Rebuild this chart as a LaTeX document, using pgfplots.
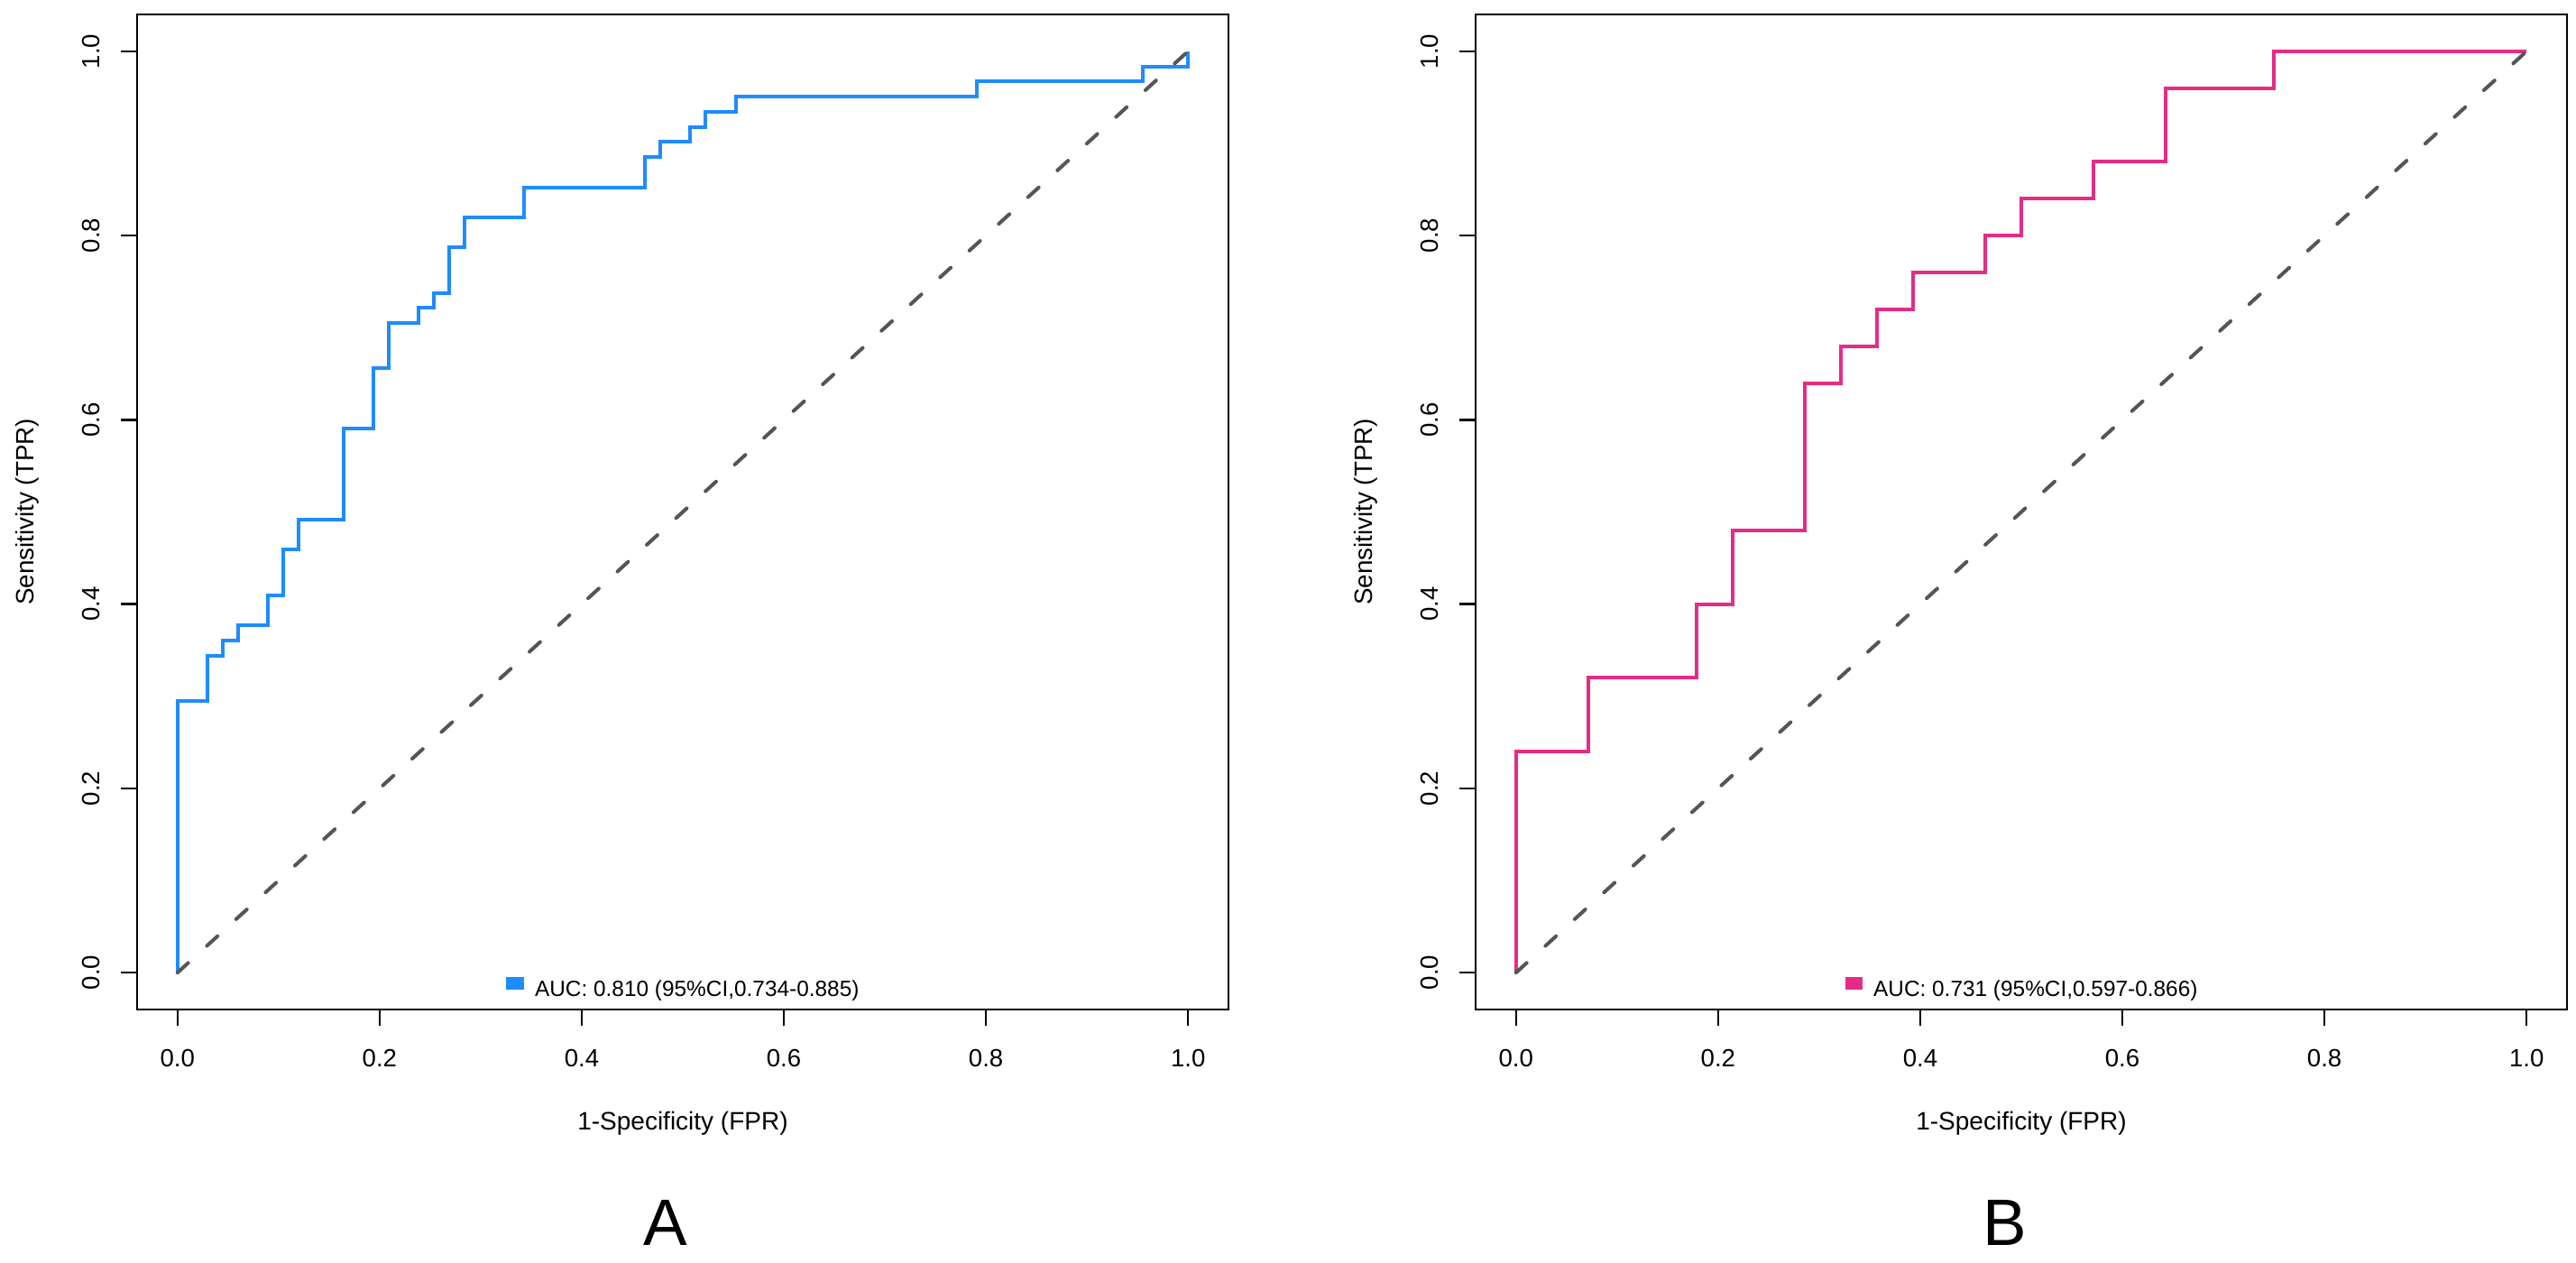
\documentclass[border=0pt]{standalone}
\usepackage{fontspec}
\setmainfont{Liberation Sans}
\usepackage{pgfplots}
\pgfplotsset{compat=1.18}
\usepackage{pgfplotstable}

\definecolor{rocA}{RGB}{30,140,255}
\definecolor{rocB}{RGB}{228,44,135}
\definecolor{diag}{RGB}{85,85,85}

% ROC curve A: (FPR, TPR) at each upward jump
\pgfplotstableread{
x y
0 0
0 0.29508
0.02985 0.34426
0.04478 0.36066
0.05970 0.37705
0.08955 0.40984
0.10448 0.45902
0.11940 0.49180
0.16418 0.59016
0.19403 0.65574
0.20896 0.70492
0.23881 0.72131
0.25373 0.73770
0.26866 0.78689
0.28358 0.81967
0.34328 0.85246
0.46269 0.88525
0.47761 0.90164
0.50746 0.91803
0.52239 0.93443
0.55224 0.95082
0.79104 0.96721
0.95522 0.98361
1 1
}\rocAtab

% ROC curve B
\pgfplotstableread{
x y
0 0
0 0.24
0.07143 0.32
0.17857 0.40
0.21429 0.48
0.28571 0.64
0.32143 0.68
0.35714 0.72
0.39286 0.76
0.46429 0.80
0.5 0.84
0.57143 0.88
0.64286 0.96
0.75 1
1 1
}\rocBtab

\pgfplotsset{
  rocaxis/.style={
    scale only axis, width=302.5bp, height=275.75bp,
    xmin=-0.04, xmax=1.04, ymin=-0.04, ymax=1.04,
    xtick={0,0.2,0.4,0.6,0.8,1}, ytick={0,0.2,0.4,0.6,0.8,1},
    tick pos=left, tick align=outside, major tick length=4.5bp,
    axis line style={line width=0.6bp, black},
    tick style={line width=0.6bp, black},
    /pgf/number format/fixed, /pgf/number format/fixed zerofill,
    /pgf/number format/precision=1, /pgf/number format/assume math mode=true,
    ticklabel style={font=\fontsize{6.9bp}{8bp}\selectfont},
    xticklabel style={anchor=north, inner sep=0pt},
    yticklabel style={rotate=90, anchor=south, inner sep=0pt},
    xticklabel shift=6.25bp, yticklabel shift=5.5bp,
    every axis x label/.style={at={(axis description cs:0.5,-0.1206)}, anchor=base,
      font=\fontsize{7bp}{8bp}\selectfont, inner sep=0pt},
    every axis y label/.style={at={(axis description cs:-0.0950,0.5)}, rotate=90, anchor=base,
      font=\fontsize{6.95bp}{8bp}\selectfont, inner sep=0pt},
    xlabel={1-Specificity (FPR)}, ylabel={Sensitivity (TPR)},
    legend style={at={(axis description cs:0.5,0)}, anchor=south, yshift=2.2bp,
      draw=none, fill=none, inner sep=0pt, outer sep=0pt,
      font=\fontsize{6.1bp}{7bp}\selectfont, nodes={inner sep=0pt, anchor=base west}},
  }
}

\begin{document}
\begin{tikzpicture}
\useasboundingbox (0,0) rectangle (714bp,350bp);
\begin{axis}[rocaxis, at={(38bp,70.25bp)}, anchor=south west,
  legend image code/.code={\fill[rocA] (0bp,2.25bp) rectangle (3.9bp,4.75bp); \path (6.9bp,0bp);}]
  \addplot[const plot, rocA, line width=1bp] table[x=x,y=y] {\rocAtab};
  \addlegendentry{AUC: 0.810 (95\%CI,0.734-0.885)}
  \addplot[diag, line width=1bp, dash pattern=on 4bp off 7bp, line cap=round, forget plot] coordinates {(0,0) (1,1)};
\end{axis}
\begin{axis}[rocaxis, at={(409bp,70.25bp)}, anchor=south west,
  legend image code/.code={\fill[rocB] (0bp,2.25bp) rectangle (3.9bp,4.75bp); \path (6.9bp,0bp);}]
  \addplot[const plot, rocB, line width=1bp] table[x=x,y=y] {\rocBtab};
  \addlegendentry{AUC: 0.731 (95\%CI,0.597-0.866)}
  \addplot[diag, line width=1bp, dash pattern=on 4bp off 7bp, line cap=round, forget plot] coordinates {(0,0) (1,1)};
\end{axis}
\node[anchor=base, inner sep=0pt, font=\fontsize{18.2bp}{20bp}\selectfont] at (184.4bp,5bp) {A};
\node[anchor=base, inner sep=0pt, font=\fontsize{18.2bp}{20bp}\selectfont] at (555.7bp,5bp) {B};
\end{tikzpicture}
\end{document}
